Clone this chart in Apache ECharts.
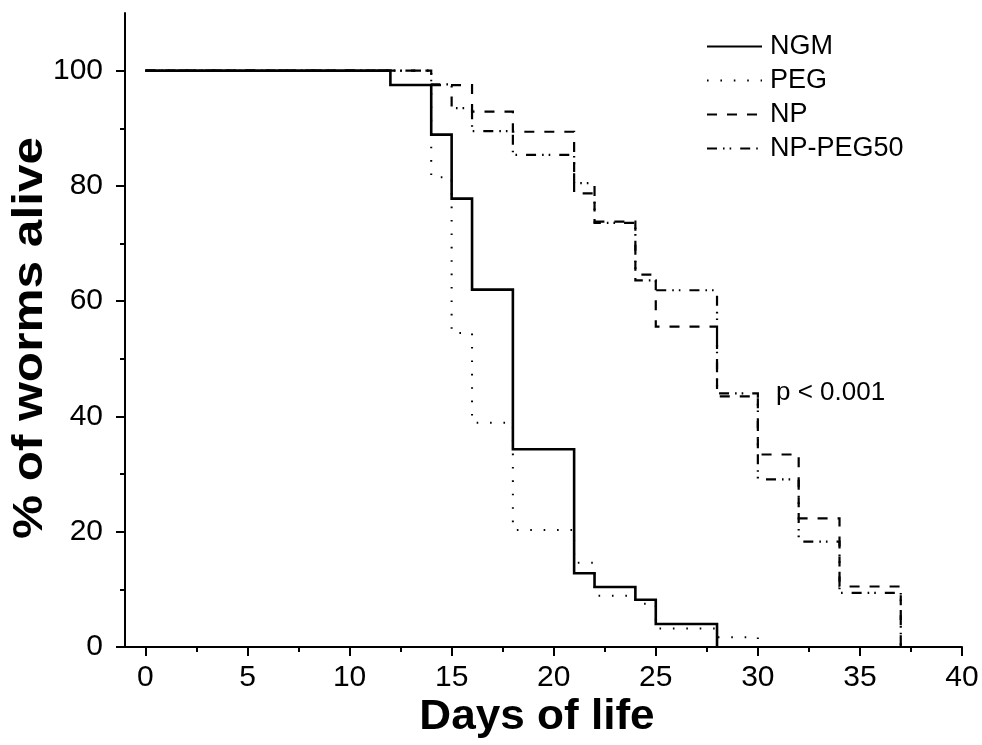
<!DOCTYPE html>
<html>
<head>
<meta charset="utf-8">
<script src="https://cdn.jsdelivr.net/npm/echarts@6.0.0/dist/echarts.min.js"></script>
<style>
html,body{margin:0;padding:0;background:#fff;}
#chart{width:982px;height:745px;}
</style>
</head>
<body>
<div id="chart"></div>
<script>
// ---- data ----
const seriesNames = ['NGM', 'PEG', 'NP', 'NP-PEG50'];
const ngmDays   = [0, 12, 14, 15, 16, 18, 21, 22, 24, 25, 28];
const ngmAlive  = [100, 97.5, 88.9, 77.8, 62.0, 34.3, 12.8, 10.4, 8.2, 4.0, 0];
const pegDays   = [0, 14, 15, 16, 18, 21, 22, 24, 25, 28, 30];
const pegAlive  = [100, 81.5, 54.5, 38.9, 20.3, 14.6, 8.9, 7.5, 3.2, 1.7, 0];
const npDays    = [0, 14, 16, 18, 21, 22, 24, 25, 28, 30, 32, 34, 37];
const npAlive   = [100, 97.5, 92.9, 89.4, 78.7, 73.8, 64.6, 55.6, 43.5, 33.4, 22.3, 10.5, 0];
const nppDays   = [0, 14, 15, 16, 18, 21, 22, 24, 25, 28, 30, 32, 34, 37];
const nppAlive  = [100, 97.6, 93.5, 89.5, 85.4, 80.5, 73.6, 63.6, 61.9, 44.0, 29.1, 18.3, 9.4, 0];
const xMajorTicks = [0, 5, 10, 15, 20, 25, 30, 35, 40];
const xMinorTicks = [2.5, 7.5, 12.5, 17.5, 22.5, 27.5, 32.5, 37.5];
const yMajorTicks = [0, 20, 40, 60, 80, 100];
const yMinorTicks = [10, 30, 50, 70, 90];
const xTitle = 'Days of life';
const yTitle = '% of worms alive';
const pText = 'p < 0.001';

const pair = (d, v) => d.map((x, i) => [x, v[i]]);
const FONT = 'Liberation Sans, Arial, sans-serif';

const chart = echarts.init(document.getElementById('chart'), null, {renderer: 'canvas'});

function mkSeries(name, data, lineStyle) {
  return {
    name, type: 'line', step: 'end', data,
    symbol: 'none', showSymbol: false,
    xAxisIndex: 0, yAxisIndex: 0,
    lineStyle: Object.assign({color: '#000', cap: 'butt', join: 'miter'}, lineStyle),
    itemStyle: {color: '#000'},
    animation: false, z: 3
  };
}

const option = {
  animation: false,
  backgroundColor: '#fff',
  grid: {left: 125, right: 20, top: 13, bottom: 98, containLabel: false},
  xAxis: [{
    type: 'value', min: -1, max: 40,
    axisLine: {show: true, onZero: false, lineStyle: {color: '#000', width: 2}},
    axisTick: {show: true, inside: false, length: 9, customValues: xMajorTicks, lineStyle: {color: '#000', width: 2}},
    axisLabel: {show: true, customValues: xMajorTicks, margin: 16, color: '#000', fontSize: 30, fontFamily: FONT},
    splitLine: {show: false}
  }, {
    type: 'value', min: -1, max: 40, position: 'bottom',
    axisLine: {show: false, onZero: false},
    axisTick: {show: true, length: 5, customValues: xMinorTicks, lineStyle: {color: '#000', width: 2}},
    axisLabel: {show: false},
    splitLine: {show: false}
  }],
  yAxis: [{
    type: 'value', min: 0, max: 110,
    axisLine: {show: true, onZero: false, lineStyle: {color: '#000', width: 2}},
    axisTick: {show: true, length: 9, customValues: yMajorTicks, lineStyle: {color: '#000', width: 2}},
    axisLabel: {show: true, customValues: yMajorTicks, margin: 22, color: '#000', fontSize: 30, fontFamily: FONT},
    splitLine: {show: false}
  }, {
    type: 'value', min: 0, max: 110, position: 'left',
    axisLine: {show: false, onZero: false},
    axisTick: {show: true, length: 5, customValues: yMinorTicks, lineStyle: {color: '#000', width: 2}},
    axisLabel: {show: false},
    splitLine: {show: false}
  }],
  legend: {
    orient: 'vertical', left: 701, top: 28,
    itemWidth: 55, itemHeight: 14, itemGap: 7,
    data: seriesNames,
    itemStyle: {opacity: 0, borderWidth: 0},
    textStyle: {color: '#000', fontSize: 27, fontFamily: FONT, lineHeight: 27, padding: [0, 0, 0, 3]}
  },
  series: [
    mkSeries('NGM', pair(ngmDays, ngmAlive), {width: 2.6, type: 'solid'}),
    mkSeries('PEG', pair(pegDays, pegAlive), {width: 2, type: [1.6, 11.8]}),
    mkSeries('NP', pair(npDays, npAlive), {width: 2.2, type: [10, 10]}),
    mkSeries('NP-PEG50', pair(nppDays, nppAlive), {width: 2.2, type: [10, 6, 1.6, 5, 1.6, 9]})
  ],
  graphic: [
    {type: 'text', left: 776, top: 380, style: {text: pText, fill: '#000', font: '26px ' + FONT}},
    {type: 'text', x: 537, y: 717, scaleX: 1.05, style: {text: xTitle, fill: '#000', font: 'bold 42px ' + FONT, align: 'center', verticalAlign: 'middle'}},
    {type: 'text', x: 30, y: 338, rotation: Math.PI / 2, scaleX: 1.18, style: {text: yTitle, fill: '#000', font: 'bold 42px ' + FONT, align: 'center', verticalAlign: 'middle'}}
  ]
};
chart.setOption(option);
</script>
</body>
</html>
